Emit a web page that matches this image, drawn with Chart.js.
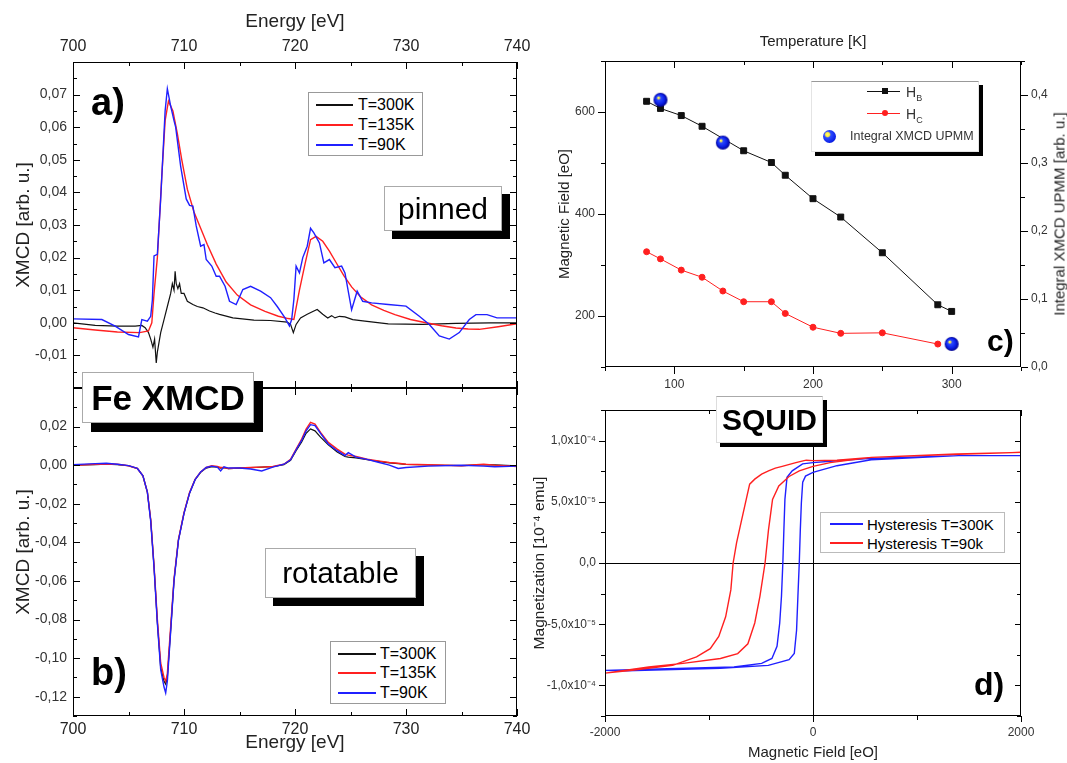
<!DOCTYPE html>
<html>
<head>
<meta charset="utf-8">
<script src="https://cdn.jsdelivr.net/npm/chart.js@4.4.0/dist/chart.umd.min.js"></script>
<style>
  body { margin: 0; background: #fff; }
  #page { position: relative; width: 1067px; height: 763px; overflow: hidden; font-family: Arial, "Liberation Sans", sans-serif; }
  canvas { position: absolute; }
  .t { position: absolute; white-space: nowrap; line-height: 1; color: #000; }
  .box { position: absolute; background: #fff; box-sizing: border-box; display: flex; align-items: center; justify-content: center; white-space: nowrap; line-height: 1; }
  .lg { position: absolute; background: #fff; box-sizing: border-box; }
  .seg { position: absolute; height: 2px; }
</style>
</head>
<body>
<div id="page">
  <canvas id="chartA" width="530" height="390" style="left:0;top:0"></canvas>
  <canvas id="chartB" width="530" height="383" style="left:0;top:380px"></canvas>
  <canvas id="chartC" width="537" height="395" style="left:530px;top:0"></canvas>
  <canvas id="chartD" width="537" height="368" style="left:530px;top:395px"></canvas>

  <!-- panel a -->
  <div class="t" style="left:91px;top:83px;font-size:38px;font-weight:bold">a)</div>
  <div class="lg" style="left:308px;top:92px;width:115px;height:64px;border:1px solid #999"></div>
  <div class="seg" style="left:316px;top:104px;width:37px;background:#111"></div>
  <div class="seg" style="left:316px;top:124px;width:37px;background:#ff2020"></div>
  <div class="seg" style="left:316px;top:144px;width:37px;background:#2020ff"></div>
  <div class="t" style="left:358px;top:97px;font-size:16px">T=300K</div>
  <div class="t" style="left:358px;top:117px;font-size:16px">T=135K</div>
  <div class="t" style="left:358px;top:137px;font-size:16px">T=90K</div>
  <div class="box" style="left:384px;top:186px;width:118px;height:45px;border:1px solid #aaa;box-shadow:8px 8px 0 #000;font-size:30px">pinned</div>

  <!-- panel b -->
  <div class="box" style="left:82px;top:372px;width:172px;height:51px;border:1px solid #aaa;box-shadow:9px 9px 0 #000;font-size:35px;font-weight:bold">Fe XMCD</div>
  <div class="box" style="left:265px;top:548px;width:151px;height:50px;border:1px solid #aaa;box-shadow:8px 8px 0 #000;font-size:30px">rotatable</div>
  <div class="t" style="left:91px;top:653px;font-size:38px;font-weight:bold">b)</div>
  <div class="lg" style="left:330px;top:641px;width:116px;height:63px;border:1px solid #999"></div>
  <div class="seg" style="left:338px;top:653px;width:38px;background:#111"></div>
  <div class="seg" style="left:338px;top:672px;width:38px;background:#ff2020"></div>
  <div class="seg" style="left:338px;top:692px;width:38px;background:#2020ff"></div>
  <div class="t" style="left:380px;top:646px;font-size:16px">T=300K</div>
  <div class="t" style="left:380px;top:665px;font-size:16px">T=135K</div>
  <div class="t" style="left:380px;top:685px;font-size:16px">T=90K</div>

  <!-- panel c -->
  <div class="lg" style="left:811px;top:81px;width:168px;height:71px;border:1px solid #e4e4e4;border-top-color:#999;box-shadow:4px 4px 0 #000"></div>
  <div class="seg" style="left:867px;top:91px;width:33px;height:1px;background:#111"></div>
  <div style="position:absolute;left:882px;top:88px;width:6px;height:6px;background:#111"></div>
  <div class="t" style="left:906px;top:85px;font-size:14px;color:#333">H<sub style="font-size:9px">B</sub></div>
  <div class="seg" style="left:867px;top:113px;width:33px;height:1px;background:#ff2020"></div>
  <div style="position:absolute;left:882px;top:110px;width:6px;height:6px;border-radius:50%;background:#ff2020"></div>
  <div class="t" style="left:906px;top:107px;font-size:14px;color:#333">H<sub style="font-size:9px">C</sub></div>
  <div style="position:absolute;left:823px;top:130px;width:13px;height:13px;border-radius:50%;background:radial-gradient(circle at 35% 35%, #ffff66 0, #ffee44 16%, #2d4cff 28%, #0a1ee6 70%, #00008c 100%)"></div>
  <div class="t" style="left:850px;top:130px;font-size:12.5px;color:#333">Integral XMCD UPMM</div>
  <div class="t" style="left:987px;top:326px;font-size:30px;font-weight:bold">c)</div>
  <div class="t" style="left:1059px;top:214px;font-size:15px;color:#222;transform:translate(-50%,-50%) rotate(-90deg)">Integral XMCD UPMM [arb. u.]</div>

  <!-- panel d -->
  <div class="box" style="left:716px;top:396px;width:107px;height:47px;border:1px solid #ddd;border-top-color:#aaa;box-shadow:4px 4px 0 #000;font-size:30px;font-weight:bold">SQUID</div>
  <div class="lg" style="left:820px;top:512px;width:185px;height:41px;border:1px solid #bbb"></div>
  <div class="seg" style="left:830px;top:523px;width:33px;background:#2020ff"></div>
  <div class="seg" style="left:830px;top:542px;width:33px;background:#ff2020"></div>
  <div class="t" style="left:867px;top:517px;font-size:15px">Hysteresis T=300K</div>
  <div class="t" style="left:867px;top:536px;font-size:15px">Hysteresis T=90k</div>
  <div class="t" style="left:974px;top:668px;font-size:32px;font-weight:bold">d)</div>
</div>

<script>
// a) pinned layer, XMCD spectra
const energyA300 = [700, 702, 704, 705.6, 706.2, 706.5, 706.8, 707.0, 707.2, 707.35, 707.5, 707.6, 707.75, 707.9, 708.2, 708.5, 708.8, 708.95, 709.1, 709.2, 709.3, 709.45, 709.6, 709.75, 710.0, 710.3, 710.8, 711.2, 711.7, 712.3, 712.8, 713.2, 714.4, 716.3, 717.8, 719.3, 719.6, 719.85, 720.1, 720.5, 721.1, 721.7, 722.0, 722.5, 722.95, 723.3, 723.6, 724.0, 724.5, 725.2, 726.3, 728.4, 731.5, 734.5, 737.6, 740];
const xmcdA300 = [0.0, -0.0008, -0.001, -0.001, -0.0008, -0.0015, -0.003, -0.005, -0.0075, -0.005, -0.0123, -0.009, -0.006, -0.003, 0.001, 0.005, 0.009, 0.012, 0.010, 0.0158, 0.012, 0.0105, 0.012, 0.009, 0.009, 0.0066, 0.0056, 0.005, 0.0046, 0.0036, 0.003, 0.0026, 0.0015, 0.0008, 0.0007, 0.0002, -0.0005, -0.003, -0.0005, 0.0015, 0.0026, 0.0036, 0.0041, 0.0026, 0.0015, 0.0022, 0.0015, 0.002, 0.0018, 0.001, 0.0005, -0.0003, -0.0005, -0.0002, 0, 0];

const energyA135 = [700, 702, 704, 706, 706.8, 707.1, 707.3, 707.6, 708.0, 708.3, 708.6, 709.0, 709.4, 709.8, 710.3, 710.9, 711.5, 712.1, 712.9, 713.8, 714.8, 716.0, 717.3, 718.5, 719.4, 719.9, 720.4, 720.9, 721.4, 721.9, 722.5, 723.1, 723.7, 724.4, 725.1, 725.9, 726.9, 728.0, 729.0, 730.4, 731.8, 733.2, 734.5, 735.6, 736.6, 738.3, 740];
const xmcdA135 = [-0.0015, -0.0022, -0.0028, -0.003, -0.0025, 0.0, 0.009, 0.02, 0.045, 0.062, 0.068, 0.065, 0.058, 0.05, 0.041, 0.034, 0.029, 0.024, 0.018, 0.0125, 0.0085, 0.0055, 0.0035, 0.002, 0.0013, 0.001, 0.01, 0.018, 0.0255, 0.0265, 0.025, 0.022, 0.0185, 0.0145, 0.011, 0.008, 0.0055, 0.0038, 0.0025, 0.001, 0, -0.0009, -0.0016, -0.0019, -0.002, -0.0012, -0.0003];

const energyA90 = [700, 702.6, 703.8, 705.0, 705.9, 706.2, 706.7, 707.0, 707.15, 707.3, 707.6, 707.9, 708.3, 708.5, 708.8, 709.1, 709.25, 709.7, 710.2, 710.5, 710.8, 711.1, 711.5, 711.8, 712.0, 712.5, 712.9, 713.2, 713.7, 714.1, 714.7, 715.3, 716.0, 716.9, 717.8, 718.4, 719.1, 719.5, 719.7, 719.9, 720.1, 720.4, 720.7, 721.1, 721.4, 721.7, 722.2, 722.6, 723.1, 723.6, 724.2, 724.5, 725.1, 725.6, 726.1, 726.9, 728.4, 730.0, 731.2, 732.1, 733.0, 733.9, 734.8, 735.7, 736.3, 737.3, 738.2, 740];
const xmcdA90 = [0.0012, 0.001, -0.001, -0.0036, -0.0043, 0.001, 0.0005, 0.002, 0.007, 0.0205, 0.021, 0.038, 0.065, 0.0718, 0.0665, 0.062, 0.06, 0.048, 0.038, 0.036, 0.0358, 0.0297, 0.0235, 0.024, 0.0194, 0.0174, 0.0143, 0.0143, 0.0112, 0.0066, 0.0056, 0.0102, 0.0112, 0.0097, 0.0077, 0.005, 0.0015, -0.001, 0.001, 0.0072, 0.0174, 0.0153, 0.02, 0.0235, 0.029, 0.0276, 0.0245, 0.0184, 0.0194, 0.0169, 0.0174, 0.0153, 0.004, 0.0097, 0.0066, 0.0061, 0.0056, 0.0051, 0.002, -0.0005, -0.004, -0.005, -0.003, 0.001, 0.0025, 0.0025, 0.0015, 0.0015];

// b) rotatable layer, one energy grid for all three temperatures
const energyB = [700, 702, 703, 704, 705, 705.8, 706.3, 706.7, 707.0, 707.3, 707.6, 707.9, 708.2, 708.35, 708.5, 708.8, 709.1, 709.5, 710.0, 710.5, 711.0, 711.5, 712.0, 712.5, 713.0, 713.3, 713.6, 714.0, 715.0, 716.0, 717.0, 718.0, 719.0, 719.6, 720.1, 720.6, 721.0, 721.4, 721.8, 722.3, 723.0, 723.8, 724.5, 724.8, 725.5, 726.5, 727.5, 728.5, 729.3, 730.0, 732.0, 735.0, 737.0, 738.0, 740.0];
const xmcdB300 = [0, 0.0003, 0.0005, 0.0003, -0.0003, -0.0017, -0.0055, -0.014, -0.0285, -0.0525, -0.0815, -0.105, -0.112, -0.1135, -0.11, -0.0855, -0.0598, -0.0388, -0.025, -0.0145, -0.0075, -0.0037, -0.0015, -0.0008, -0.001, -0.0015, -0.0013, -0.0018, -0.0015, -0.0013, -0.001, -0.0008, 0.0003, 0.0025, 0.0075, 0.012, 0.0165, 0.0188, 0.0178, 0.0145, 0.0105, 0.0068, 0.0045, 0.0042, 0.0038, 0.0028, 0.002, 0.0012, 0.0008, 0.0004, 0.0001, -0.0002, 0.0003, 0.0002, -0.0004];
const xmcdB135 = [0, 0.0005, 0.0005, 0.0005, -0.0003, -0.0017, -0.0055, -0.014, -0.028, -0.052, -0.08, -0.1025, -0.11, -0.112, -0.108, -0.0835, -0.059, -0.0384, -0.0246, -0.0142, -0.0073, -0.0035, -0.0012, -0.0003, -0.0007, -0.0012, -0.0012, -0.0017, -0.0015, -0.0012, -0.001, -0.0007, 0.0005, 0.003, 0.0083, 0.0135, 0.0187, 0.0222, 0.0213, 0.017, 0.0118, 0.0083, 0.0057, 0.0052, 0.0045, 0.0031, 0.0022, 0.0014, 0.001, 0.0005, 0.0002, -0.0003, 0.0005, 0, -0.0007];
const xmcdB90 = [0.0003, 0.0008, 0.001, 0.0005, -0.0002, -0.0017, -0.0055, -0.014, -0.029, -0.053, -0.082, -0.106, -0.115, -0.118, -0.112, -0.086, -0.06, -0.039, -0.025, -0.0145, -0.0075, -0.0035, -0.0012, -0.0005, -0.001, -0.003, -0.0008, -0.0015, -0.0015, -0.002, -0.003, -0.001, 0.0005, 0.0028, 0.008, 0.0128, 0.0178, 0.021, 0.0205, 0.0165, 0.011, 0.0075, 0.005, 0.0065, 0.0042, 0.003, 0.0015, 0, -0.0017, -0.0012, -0.0005, 0, -0.0005, -0.0008, -0.0005];

// c) fields vs temperature
const tempHB = [80, 90, 105, 120, 150, 170, 180, 200, 220, 250, 290, 300];
const fieldHB = [621, 607, 593, 572, 524, 501, 476, 430, 394, 324, 222, 209];
const tempHC = [80, 90, 105, 120, 135, 150, 170, 180, 200, 220, 250, 290];
const fieldHC = [326, 312, 290, 276, 249, 228, 228, 205, 178, 166, 167, 145];
const tempXmcd = [90, 135, 300];
const integralXmcd = [0.393, 0.33, 0.034];

// d) SQUID loops, magnetization in 1e-4 emu (down branch then up branch)
const fieldLoop300 = [2000, 1400, 560, 230, 0, -100, -200, -250, -270, -280, -290, -303, -320, -346, -395, -494, -760, -1400, -2000, -1800, -890, -430, -230, -180, -158, -145, -132, -122, -112, -99, -72, 0, 230, 560, 1400, 2000];
const magLoop300 = [0.877, 0.877, 0.855, 0.835, 0.82, 0.81, 0.753, 0.70, 0.52, 0.27, 0, -0.27, -0.49, -0.68, -0.78, -0.82, -0.85, -0.863, -0.877, -0.88, -0.86, -0.836, -0.79, -0.74, -0.55, -0.27, 0, 0.27, 0.49, 0.66, 0.71, 0.74, 0.795, 0.844, 0.877, 0.877];
const fieldLoop90 = [2000, 1380, 560, 230, 0, -66, -165, -296, -362, -428, -494, -560, -609, -642, -692, -735, -768, -790, -840, -906, -988, -1120, -1350, -1740, -2000, -1580, -1250, -890, -724, -626, -560, -510, -461, -428, -389, -329, -230, -132, 0, 165, 560, 1250, 2000];
const magLoop90 = [0.904, 0.89, 0.863, 0.84, 0.836, 0.84, 0.82, 0.79, 0.775, 0.753, 0.726, 0.685, 0.644, 0.52, 0.33, 0.164, 0, -0.22, -0.44, -0.60, -0.70, -0.767, -0.836, -0.877, -0.90, -0.85, -0.82, -0.78, -0.74, -0.66, -0.49, -0.27, 0, 0.27, 0.52, 0.63, 0.707, 0.753, 0.79, 0.82, 0.863, 0.885, 0.904];

// tick labels
const energyTicks = [700, 710, 720, 730, 740];
const tempTicks = [100, 200, 300];
const fieldTicks = [200, 400, 600];
const integralTicks = [0, 0.1, 0.2, 0.3, 0.4];
const hystFieldTicks = [-2000, 0, 2000];
const magTickValues = [1, 0.5, 0, -0.5, -1];
const magTickLabels = ['1,0x10⁻⁴', '5,0x10⁻⁵', '0,0', '-5,0x10⁻⁵', '-1,0x10⁻⁴'];

const RED = '#ff2020';
const BLUE = '#2020ff';
const BLACK = '#111';

Chart.defaults.font.family = 'Arial, "Liberation Sans", sans-serif';
Chart.defaults.color = '#333';
Chart.defaults.animation = false;
Chart.defaults.responsive = false;
Chart.defaults.devicePixelRatio = 1;
Chart.defaults.plugins.legend.display = false;
Chart.defaults.plugins.tooltip.enabled = false;

const comma = (v, d) => (Math.abs(v) < 1e-9 ? 0 : v).toFixed(d).replace('.', ',');
const near = (arr, v) => arr.some(a => Math.abs(a - v) < 1e-9);

const fixWidth = w => s => { s.width = w; s.paddingTop = 0; s.paddingBottom = 0; };
const fixHeight = h => s => { s.height = h; s.paddingLeft = 0; s.paddingRight = 0; };

// Chart.js paints the first dataset last, so list the top-most curve first
function line(xs, ys, color, width) {
  return {
    data: xs.map((x, i) => ({ x, y: ys[i] })),
    showLine: true,
    borderColor: color,
    backgroundColor: color,
    borderWidth: width || 1.4,
    pointRadius: 0,
    tension: 0,
  };
}

// frame around the plot area plus tick marks (1 = into plot, -1 = away)
const frameTicks = {
  id: 'frameTicks',
  afterDatasetsDraw(chart, args, opts) {
    const { ctx, chartArea: a } = chart;
    ctx.save();
    ctx.strokeStyle = '#000';
    ctx.lineWidth = 1;
    ctx.strokeRect(a.left + 0.5, a.top + 0.5, a.right - a.left - 1, a.bottom - a.top - 1);
    opts.sides.forEach(([side, id, dir]) => {
      const sc = chart.scales[id];
      sc.ticks.forEach(t => {
        const p = Math.round(sc.getPixelForValue(t.value)) + 0.5;
        const len = (t.label === '' ? opts.minor : opts.major) * dir;
        ctx.beginPath();
        if (side === 'top') { ctx.moveTo(p, a.top); ctx.lineTo(p, a.top + len); }
        if (side === 'bottom') { ctx.moveTo(p, a.bottom); ctx.lineTo(p, a.bottom - len); }
        if (side === 'left') { ctx.moveTo(a.left, p); ctx.lineTo(a.left + len, p); }
        if (side === 'right') { ctx.moveTo(a.right, p); ctx.lineTo(a.right - len, p); }
        ctx.stroke();
      });
    });
    ctx.restore();
  }
};

const noGrid = { display: false, drawTicks: false };
const noBorder = { display: false };
const inAll = [['top', 'x', 1], ['bottom', 'x', 1], ['left', 'y', 1], ['right', 'y', 1]];

function energyAxis(position, height) {
  return {
    type: 'linear', position, min: 700, max: 740,
    grid: noGrid, border: noBorder,
    ticks: { stepSize: 5, autoSkip: false, maxRotation: 0, padding: position === 'top' ? 6 : 4, font: { size: 16 }, color: '#222',
             callback: v => near(energyTicks, v) ? String(v) : '' },
    title: { display: true, text: 'Energy [eV]', font: { size: 19 }, color: '#222', padding: position === 'top' ? { top: 10, bottom: 0 } : { top: 0, bottom: 9 } },
    afterFit: fixHeight(height),
  };
}

function xmcdAxis(min, max, step, lo, hi, labelStep) {
  return {
    type: 'linear', min, max,
    grid: noGrid, border: noBorder,
    ticks: { stepSize: step, autoSkip: false, padding: 6, font: { size: 14 }, color: '#333',
             callback: v => {
               const k = Math.round(v * 1000);
               return (k % labelStep === 0 && k >= lo && k <= hi) ? comma(v, 2) : '';
             } },
    title: { display: true, text: 'XMCD [arb. u.]', font: { size: 19 }, color: '#222', padding: { top: 12, bottom: 0 } },
    afterFit: fixWidth(73),
  };
}

new Chart(document.getElementById('chartA'), {
  type: 'scatter',
  data: { datasets: [
    line(energyA90, xmcdA90, BLUE),
    line(energyA135, xmcdA135, RED),
    line(energyA300, xmcdA300, BLACK, 1.2),
  ] },
  options: {
    layout: { padding: { left: 0, top: 0, right: 13, bottom: 2 } },
    scales: {
      x: energyAxis('top', 62),
      y: xmcdAxis(-0.02, 0.08, 0.005, -10, 70, 10),
    },
    plugins: { frameTicks: { sides: inAll, major: 7, minor: 4 } },
  },
  plugins: [frameTicks],
});

new Chart(document.getElementById('chartB'), {
  type: 'scatter',
  data: { datasets: [
    line(energyB, xmcdB90, BLUE),
    line(energyB, xmcdB135, RED),
    line(energyB, xmcdB300, BLACK, 1.2),
  ] },
  options: {
    layout: { padding: { left: 0, top: 8, right: 13, bottom: 0 } },
    scales: {
      x: energyAxis('bottom', 47),
      y: xmcdAxis(-0.13, 0.04, 0.01, -120, 20, 20),
    },
    plugins: { frameTicks: { sides: inAll, major: 7, minor: 4 } },
  },
  plugins: [frameTicks],
});

function makeBall(r) {
  const c = document.createElement('canvas');
  c.width = c.height = 2 * r + 2;
  const g = c.getContext('2d');
  const m = r + 1;
  const grad = g.createRadialGradient(m - r * 0.35, m - r * 0.35, 0, m, m, r);
  grad.addColorStop(0, '#ffff66');
  grad.addColorStop(0.16, '#ffee44');
  grad.addColorStop(0.28, '#2d4cff');
  grad.addColorStop(0.7, '#0a1ee6');
  grad.addColorStop(1, '#00008c');
  g.fillStyle = grad;
  g.beginPath();
  g.arc(m, m, r, 0, Math.PI * 2);
  g.fill();
  return c;
}

new Chart(document.getElementById('chartC'), {
  type: 'scatter',
  data: { datasets: [
    { data: tempXmcd.map((x, i) => ({ x, y: integralXmcd[i] })), yAxisID: 'y1', pointStyle: makeBall(7), pointRadius: 7, showLine: false },
    Object.assign(line(tempHB, fieldHB, BLACK, 1), { pointRadius: 4.2, pointStyle: 'rect', yAxisID: 'y' }),
    Object.assign(line(tempHC, fieldHC, RED, 1), { pointRadius: 3, pointStyle: 'circle', yAxisID: 'y' }),
  ] },
  options: {
    layout: { padding: 0 },
    scales: {
      x: { type: 'linear', position: 'bottom', min: 50, max: 350, grid: noGrid, border: noBorder,
           ticks: { stepSize: 50, autoSkip: false, maxRotation: 0, padding: 10, font: { size: 12 },
                    callback: v => near(tempTicks, v) ? String(v) : '' },
           afterFit: fixHeight(28) },
      xTop: { type: 'linear', position: 'top', min: 50, max: 350, grid: noGrid, border: noBorder,
              ticks: { display: false },
              title: { display: true, text: 'Temperature [K]', font: { size: 15 }, color: '#222', padding: { top: 33, bottom: 0 } },
              afterFit: fixHeight(61) },
      y: { type: 'linear', position: 'left', min: 100, max: 700, grid: noGrid, border: noBorder,
           ticks: { stepSize: 100, autoSkip: false, padding: 10, font: { size: 12 },
                    callback: v => near(fieldTicks, v) ? String(v) : '' },
           title: { display: true, text: 'Magnetic Field [eO]', font: { size: 15 }, color: '#222', padding: { top: 26, bottom: 0 } },
           afterFit: fixWidth(75) },
      y1: { type: 'linear', position: 'right', min: 0, max: 0.45, grid: noGrid, border: noBorder,
            ticks: { stepSize: 0.05, autoSkip: false, padding: 10, font: { size: 12 },
                     callback: v => near(integralTicks, v) ? comma(v, 1) : '' },
            afterFit: fixWidth(46) },
    },
    plugins: { frameTicks: { sides: [['bottom', 'x', -1], ['top', 'x', 1], ['left', 'y', -1], ['right', 'y1', -1]], major: 7, minor: 4 } },
  },
  plugins: [frameTicks],
});

const zeroLine = c => (c.tick && c.tick.value === 0) ? '#000' : 'rgba(0,0,0,0)';

new Chart(document.getElementById('chartD'), {
  type: 'scatter',
  data: { datasets: [
    line(fieldLoop90, magLoop90, RED, 1.4),
    line(fieldLoop300, magLoop300, BLUE, 1.4),
  ] },
  options: {
    layout: { padding: { left: 0, top: 15, right: 46, bottom: 0 } },
    scales: {
      x: { type: 'linear', min: -2000, max: 2000, border: noBorder,
           grid: { display: true, drawTicks: false, lineWidth: 1, color: zeroLine },
           ticks: { stepSize: 1000, autoSkip: false, maxRotation: 0, padding: 9, font: { size: 12 },
                    callback: v => near(hystFieldTicks, v) ? String(v) : '' },
           title: { display: true, text: 'Magnetic Field [eO]', font: { size: 15 }, color: '#222', padding: { top: 0, bottom: 1 } },
           afterFit: fixHeight(47) },
      y: { type: 'linear', min: -1.25, max: 1.25, border: noBorder,
           grid: { display: true, drawTicks: false, lineWidth: 1, color: zeroLine },
           ticks: { stepSize: 0.25, autoSkip: false, padding: 9, font: { size: 12 },
                    callback: v => {
                      const i = magTickValues.findIndex(m => Math.abs(m - v) < 1e-9);
                      return i >= 0 ? magTickLabels[i] : '';
                    } },
           title: { display: true, text: 'Magnetization [10⁻⁴ emu]', font: { size: 15.5 }, color: '#222', padding: { top: 0, bottom: 0 } },
           afterFit: fixWidth(75) },
    },
    plugins: { frameTicks: { sides: [['bottom', 'x', -1], ['top', 'x', 1], ['left', 'y', -1], ['right', 'y', 1]], major: 6, minor: 4 } },
  },
  plugins: [frameTicks],
});
</script>
</body>
</html>
